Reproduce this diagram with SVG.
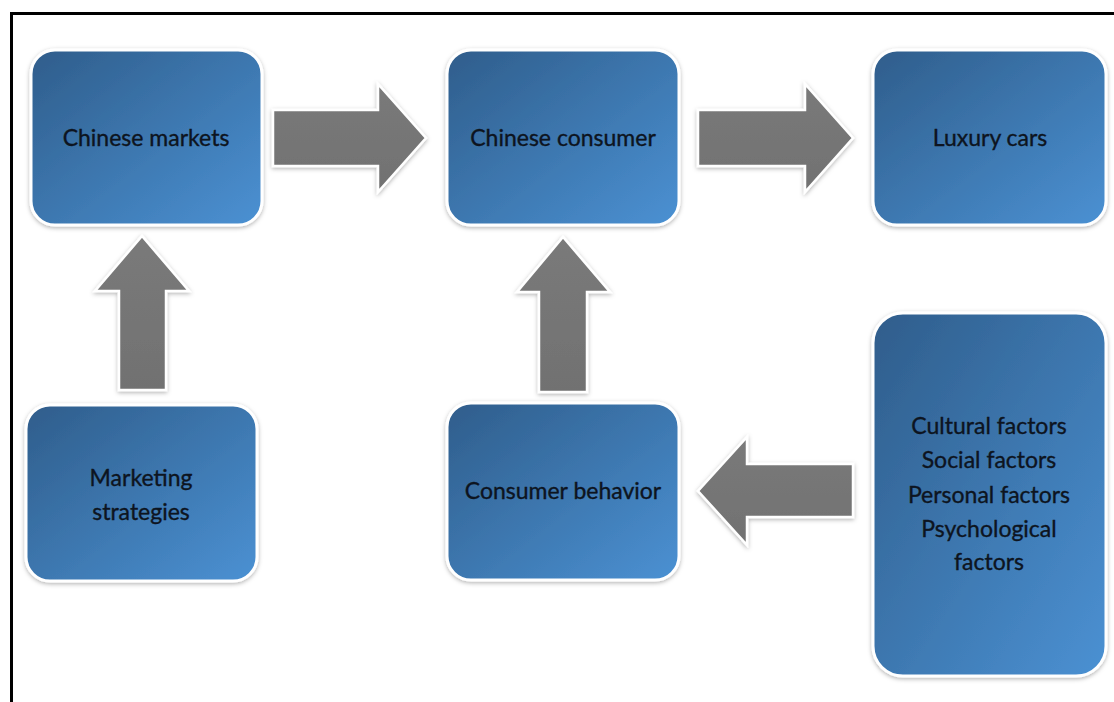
<svg xmlns="http://www.w3.org/2000/svg" width="1114" height="702" viewBox="0 0 1114 702">
<style>
.box{fill:url(#bg);stroke:#fff;stroke-width:3;filter:url(#sh)}
.arr{fill:url(#ag);stroke:#fff;stroke-width:2.5;stroke-linejoin:miter;filter:url(#sh)}
.t{font-family:Lato,"Open Sans","Liberation Sans",sans-serif;font-size:23px;fill:#0d1420;text-anchor:middle;stroke:#0d1420;stroke-width:0.35}
</style>
<defs>
<linearGradient id="bg" x1="0" y1="0" x2="1" y2="1">
<stop offset="0" stop-color="#2f5d8b"/>
<stop offset="1" stop-color="#4b91d3"/>
</linearGradient>
<linearGradient id="ag" x1="0" y1="0" x2="0" y2="1">
<stop offset="0" stop-color="#7a7a7a"/>
<stop offset="1" stop-color="#717171"/>
</linearGradient>
<filter id="sh" x="-10%" y="-10%" width="120%" height="120%">
<feDropShadow dx="0" dy="1.5" stdDeviation="2" flood-color="#000" flood-opacity="0.3"/>
</filter>
</defs>
<rect x="11.5" y="13.5" width="1110" height="700" fill="#fff" stroke="#000" stroke-width="3"/>
<g id="connectors">
<path class="arr" d="M273,110 H378 V84 L426,138 L378,192 V166 H273 Z"/>
<path class="arr" d="M698,110 H805 V84 L853,138 L805,192 V166 H698 Z"/>
<path class="arr" d="M119,390 V291 H95 L142,236 L189,291 H166 V390 Z"/>
<path class="arr" d="M539,392 V292 H517 L563,237 L610,292 H587 V392 Z"/>
<path class="arr" d="M853,464 H747 V437 L698,491 L747,545 V517 H853 Z"/>
</g>
<g id="n1"><rect class="box" x="31" y="50" width="231" height="175" rx="24"/><text class="t" x="146" y="146">Chinese markets</text></g>
<g id="n2"><rect class="box" x="447" y="50" width="232" height="175" rx="24"/><text class="t" x="563" y="146">Chinese consumer</text></g>
<g id="n3"><rect class="box" x="873" y="50" width="233" height="175" rx="24"/><text class="t" x="990" y="146">Luxury cars</text></g>
<g id="n4"><rect class="box" x="26" y="405" width="231" height="176" rx="24"/><text class="t" x="141" y="486">Marketing</text><text class="t" x="141" y="520">strategies</text></g>
<g id="n5"><rect class="box" x="447" y="403" width="232" height="177" rx="24"/><text class="t" x="563" y="499">Consumer behavior</text></g>
<g id="n6"><rect class="box" x="873" y="313" width="233" height="363" rx="30"/>
<text class="t" x="989" y="434">Cultural factors</text>
<text class="t" x="989" y="468">Social factors</text>
<text class="t" x="989" y="503">Personal factors</text>
<text class="t" x="989" y="537">Psychological</text>
<text class="t" x="989" y="570">factors</text></g>
</svg>
